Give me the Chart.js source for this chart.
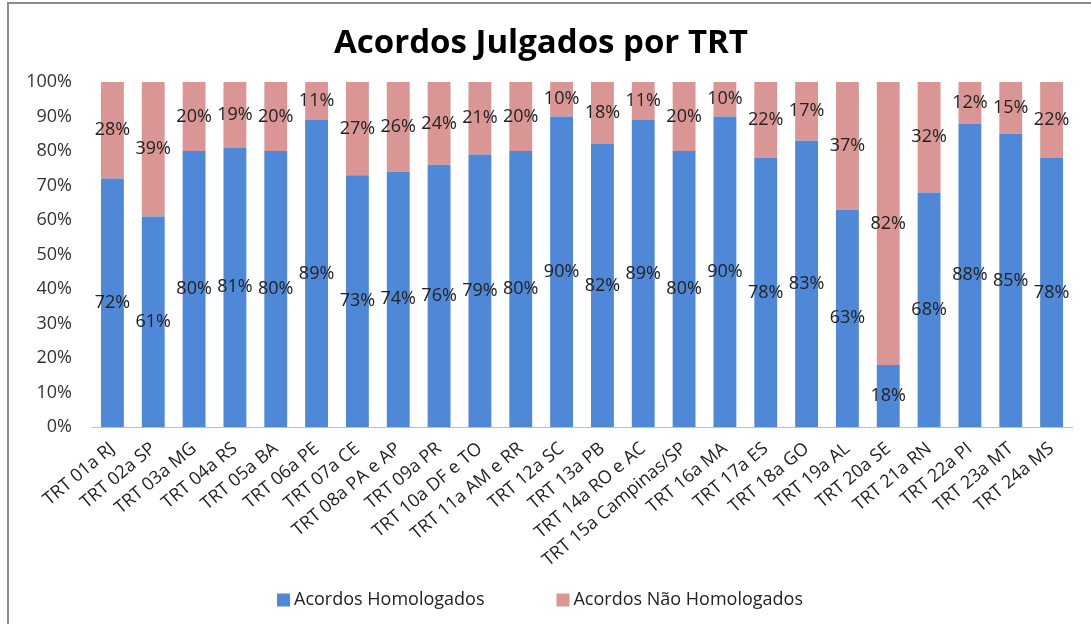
<!DOCTYPE html>
<html>
<head>
<meta charset="utf-8">
<script src="https://cdn.jsdelivr.net/npm/chart.js@4.4.1/dist/chart.umd.min.js"></script>
<style>
  html, body { margin: 0; padding: 0; background: #ffffff; }
  #wrap { width: 1091px; height: 624px; position: relative; }
</style>
</head>
<body>
<div id="wrap"><canvas id="c" width="1091" height="624"></canvas></div>
<script>
const categories = [
  "TRT 01a RJ", "TRT 02a SP", "TRT 03a MG", "TRT 04a RS", "TRT 05a BA", "TRT 06a PE",
  "TRT 07a CE", "TRT 08a PA e AP", "TRT 09a PR", "TRT 10a DF e TO", "TRT 11a AM e RR",
  "TRT 12a SC", "TRT 13a PB", "TRT 14a RO e AC", "TRT 15a Campinas/SP", "TRT 16a MA",
  "TRT 17a ES", "TRT 18a GO", "TRT 19a AL", "TRT 20a SE", "TRT 21a RN", "TRT 22a PI",
  "TRT 23a MT", "TRT 24a MS"
];
const homologados = [72, 61, 80, 81, 80, 89, 73, 74, 76, 79, 80, 90, 82, 89, 80, 90, 78, 83, 63, 18, 68, 88, 85, 78];
const naoHomologados = [28, 39, 20, 19, 20, 11, 27, 26, 24, 21, 20, 10, 18, 11, 20, 10, 22, 17, 37, 82, 32, 12, 15, 22];
const seriesNames = ["Acordos Homologados", "Acordos Não Homologados"];
const seriesColors = ['#4f88d6', '#d99694'];
const yTicks = [0, 10, 20, 30, 40, 50, 60, 70, 80, 90, 100];
const chartTitle = "Acordos Julgados por TRT";

const FONT = "'Open Sans', 'DejaVu Sans', sans-serif";

const framePlugin = {
  id: 'frame',
  beforeDraw(chart) {
    const ctx = chart.ctx;
    ctx.save();
    ctx.fillStyle = '#ffffff';
    ctx.fillRect(0, 0, chart.width, chart.height);
    ctx.strokeStyle = '#8c8c8c';
    ctx.lineWidth = 2;
    ctx.beginPath();
    ctx.moveTo(8, chart.height);
    ctx.lineTo(8, 3);
    ctx.lineTo(chart.width, 3);
    ctx.stroke();
    ctx.restore();
  }
};

const valueLabels = {
  id: 'valueLabels',
  afterDatasetsDraw(chart) {
    const ctx = chart.ctx;
    ctx.save();
    ctx.font = "18px " + FONT;
    ctx.fillStyle = '#222222';
    ctx.textAlign = 'center';
    ctx.textBaseline = 'middle';
    chart.data.datasets.forEach((ds, di) => {
      const meta = chart.getDatasetMeta(di);
      meta.data.forEach((bar, i) => {
        const v = ds.data[i];
        const y = (bar.y + bar.base) / 2;
        ctx.fillText(v + '%', bar.x, y);
      });
    });
    ctx.restore();
  }
};

// Legend drawn at the bottom, spaced like the original
const bottomLegend = {
  id: 'bottomLegend',
  afterDraw(chart) {
    const ctx = chart.ctx;
    ctx.save();
    ctx.font = "18px " + FONT;
    ctx.textBaseline = 'middle';
    ctx.textAlign = 'left';
    const box = 13, gapText = 4, gapItem = 72;
    const items = chart.data.datasets.map(ds => ({ text: ds.label, color: ds.backgroundColor, w: ctx.measureText(ds.label).width }));
    let total = 0;
    items.forEach((it, i) => { total += box + gapText + it.w + (i < items.length - 1 ? gapItem : 0); });
    let x = 540 - total / 2;
    const y = 600;
    items.forEach(it => {
      ctx.fillStyle = it.color;
      ctx.fillRect(x, y - box / 2, box, box);
      x += box + gapText;
      ctx.fillStyle = '#222222';
      ctx.fillText(it.text, x, y);
      x += it.w + gapItem;
    });
    ctx.restore();
  }
};

new Chart(document.getElementById('c'), {
  type: 'bar',
  data: {
    labels: categories,
    datasets: [
      { label: seriesNames[0], data: homologados, backgroundColor: seriesColors[0], borderWidth: 0 },
      { label: seriesNames[1], data: naoHomologados, backgroundColor: seriesColors[1], borderWidth: 0 }
    ]
  },
  options: {
    responsive: false,
    animation: false,
    devicePixelRatio: 1,
    layout: { padding: { left: 10, right: 19, top: 12, bottom: 47 } },
    datasets: { bar: { barPercentage: 0.56, categoryPercentage: 1.0 } },
    plugins: {
      title: {
        display: true,
        text: chartTitle,
        color: '#000000',
        font: { family: FONT, size: 33, weight: 'bold' },
        padding: { top: 12, bottom: 18.4 }
      },
      legend: { display: false },
      tooltip: { enabled: false }
    },
    scales: {
      x: {
        stacked: true,
        grid: { display: false, drawTicks: false },
        border: { display: true, color: '#bfbfbf', width: 1 },
        ticks: {
          color: '#222222',
          font: { family: FONT, size: 18 },
          minRotation: 40,
          maxRotation: 40,
          autoSkip: false,
          padding: 11
        },
        afterFit(scale) { scale.height = 150; }
      },
      y: {
        stacked: true,
        min: 0,
        max: 100,
        grid: { display: false, drawTicks: false },
        border: { display: false },
        afterBuildTicks(scale) { scale.ticks = yTicks.map(v => ({ value: v })); },
        ticks: {
          color: '#333333',
          font: { family: FONT, size: 18 },
          padding: 20,
          callback: (v) => v + '%'
        },
        afterFit(scale) { scale.width = 82; }
      }
    }
  },
  plugins: [framePlugin, valueLabels, bottomLegend]
});
</script>
</body>
</html>
